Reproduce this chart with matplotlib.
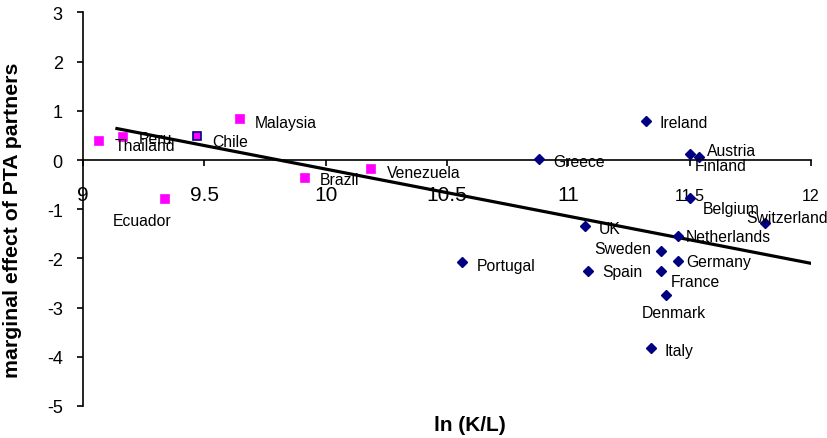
import numpy as np
import matplotlib
matplotlib.use("Agg")
import matplotlib.pyplot as plt

plt.rcParams['font.family'] = ['Liberation Sans', 'DejaVu Sans']
plt.rcParams['axes.unicode_minus'] = False

# developing countries (pink squares)
dev_names = ["Thailand", "Peru", "Chile", "Malaysia", "Ecuador", "Brazil", "Venezuela"]
dev_x = [9.066, 9.165, 9.470, 9.647, 9.338, 9.915, 10.187]
dev_y = [0.38, 0.46, 0.48, 0.84, -0.80, -0.36, -0.19]

# OECD countries (navy diamonds)
oecd_names = ["Greece", "Ireland", "Austria", "Finland", "Belgium", "Switzerland", "UK",
              "Netherlands", "Sweden", "Germany", "Portugal", "Spain", "France",
              "Denmark", "Italy"]
oecd_x = [10.880, 11.320, 11.502, 11.539, 11.502, 11.810, 11.068,
          11.453, 11.383, 11.453, 10.563, 11.082, 11.383, 11.402, 11.339]
oecd_y = [0.02, 0.80, 0.13, 0.06, -0.77, -1.28, -1.34,
          -1.55, -1.84, -2.05, -2.08, -2.25, -2.25, -2.75, -3.83]

# fitted line
trend_x = [9.14, 12.0]
trend_y = [0.64, -2.10]

xticks = [9, 9.5, 10, 10.5, 11, 11.5, 12]
xtick_labels = ["9", "9.5", "10", "10.5", "11", "11.5", "12"]

# label offsets in pixels (dx, dy, ha)
offs = {
    "Thailand": (16, -4, "left"), "Peru": (16, -1, "left"), "Chile": (15, -5, "left"),
    "Malaysia": (15, -4, "left"), "Ecuador": (-23, -21, "center"), "Brazil": (15, -2, "left"),
    "Venezuela": (16, -3, "left"), "Greece": (14, -2, "left"), "Ireland": (14, -2, "left"),
    "Austria": (17, 3, "left"), "Finland": (-4, -8, "left"), "Belgium": (13, -11, "left"),
    "Switzerland": (-19, 6, "left"), "UK": (14, -3, "left"), "Netherlands": (7, 0, "left"),
    "Sweden": (-10, 2, "right"), "Germany": (8, -1, "left"), "Portugal": (14, -3, "left"),
    "Spain": (14, -1, "left"), "France": (9, -11, "left"), "Denmark": (8, -17, "center"),
    "Italy": (14, -2, "left"),
}

fig = plt.figure(figsize=(8.28, 4.39), dpi=100)
ax = fig.add_axes([0.1002, 0.0729, 0.8793, 0.8964])

ax.plot(trend_x, trend_y, color="black", lw=2.3, zorder=2)

for i, n in enumerate(dev_names):
    ec = "#000080" if n == "Chile" else "#FF00FF"
    ax.plot(dev_x[i], dev_y[i], "s", color="#FF00FF", mec=ec, mew=1.2, ms=5.2, zorder=3)
ax.plot(oecd_x, oecd_y, "D", color="#000080", ms=5.6, ls="none", zorder=3)

for xs, ys, ns in [(dev_x, dev_y, dev_names), (oecd_x, oecd_y, oecd_names)]:
    for x, y, n in zip(xs, ys, ns):
        dx, dy, ha = offs[n]
        ax.annotate(n, (x, y), xytext=(dx, dy), textcoords="offset pixels",
                    ha=ha, va="center", fontsize=11.3, zorder=4)

ax.set_xlim(9, 12)
ax.set_ylim(-5, 3)
ax.spines["top"].set_visible(False)
ax.spines["right"].set_visible(False)
ax.spines["bottom"].set_position(("data", 0))
ax.spines["left"].set_linewidth(1.2)
ax.spines["bottom"].set_linewidth(1.2)
ax.set_xticks(xticks)
ax.set_xticklabels(xtick_labels)
ax.set_yticks(range(-5, 4))
ax.tick_params(axis="x", length=4.5, width=1.2, pad=24)
ax.tick_params(axis="y", length=4.5, width=1.2, pad=10, labelsize=13)
# the last two x labels are smaller in the original
for lbl, t in zip(ax.get_xticklabels(), xticks):
    lbl.set_fontsize(11.5 if t >= 11.5 else 15)
    lbl.set_verticalalignment("baseline")

ax.set_xlabel("ln (K/L)", fontsize=15, fontweight="bold", va="center")
ax.xaxis.set_label_coords(0.532, -0.047)
ax.set_ylabel("marginal effect of PTA partners", fontsize=15.3, fontweight="bold")
ax.yaxis.set_label_coords(-0.084, 0.475)

fig.savefig("out.png", dpi=100)
